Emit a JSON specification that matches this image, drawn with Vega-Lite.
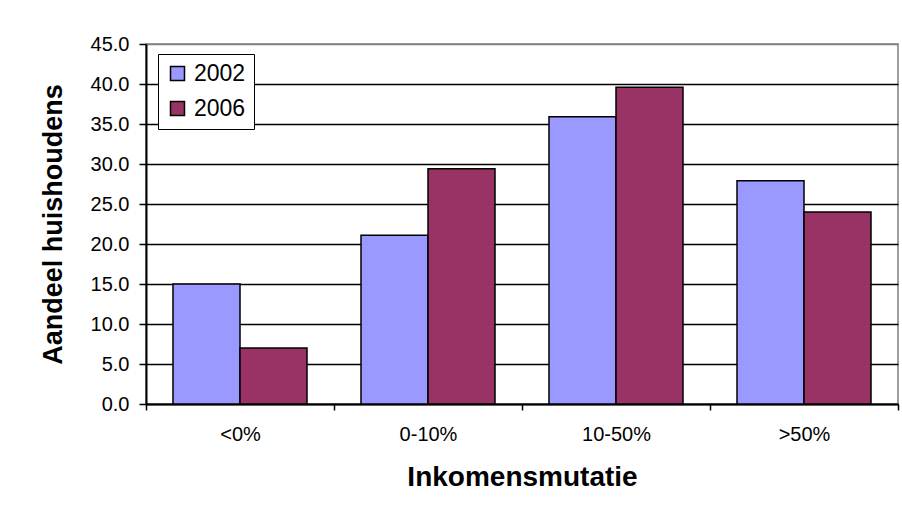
{
  "$schema": "https://vega.github.io/schema/vega-lite/v6.json",
  "width": 752,
  "height": 360,
  "autosize": "none",
  "padding": {"left": 146, "top": 44, "right": 4, "bottom": 114},
  "background": "white",
  "config": {
    "font": "Liberation Sans",
    "view": {"stroke": "#808080", "strokeWidth": 1.5}
  },
  "data": {
    "values": [
      {"cat": "<0%", "jaar": "2002", "waarde": 15.0},
      {"cat": "<0%", "jaar": "2006", "waarde": 7.0},
      {"cat": "0-10%", "jaar": "2002", "waarde": 21.1},
      {"cat": "0-10%", "jaar": "2006", "waarde": 29.4},
      {"cat": "10-50%", "jaar": "2002", "waarde": 35.9},
      {"cat": "10-50%", "jaar": "2006", "waarde": 39.6},
      {"cat": ">50%", "jaar": "2002", "waarde": 27.9},
      {"cat": ">50%", "jaar": "2006", "waarde": 24.0}
    ]
  },
  "mark": {"type": "bar", "stroke": "black", "strokeWidth": 1.5},
  "encoding": {
    "x": {
      "field": "cat",
      "type": "nominal",
      "sort": ["<0%", "0-10%", "10-50%", ">50%"],
      "scale": {"paddingInner": 0, "paddingOuter": 0},
      "axis": {
        "title": "Inkomensmutatie",
        "titleFontSize": 28,
        "titleFontWeight": "bold",
        "titleColor": "black",
        "titlePadding": 19,
        "labelAngle": 0,
        "labelFontSize": 20,
        "labelColor": "black",
        "labelPadding": 14,
        "tickBand": "extent",
        "tickSize": 6,
        "tickColor": "black",
        "tickWidth": 1.5,
        "domainColor": "black",
        "domainWidth": 2,
        "grid": false
      }
    },
    "xOffset": {
      "field": "jaar",
      "type": "nominal",
      "scale": {"paddingInner": 0, "paddingOuter": 0.403}
    },
    "y": {
      "field": "waarde",
      "type": "quantitative",
      "scale": {"domain": [0, 45], "nice": false},
      "axis": {
        "title": "Aandeel huishoudens",
        "titleFontSize": 27,
        "titleFontWeight": "bold",
        "titleColor": "black",
        "titlePadding": 23,
        "values": [0, 5, 10, 15, 20, 25, 30, 35, 40, 45],
        "format": ".1f",
        "labelFontSize": 20,
        "labelColor": "black",
        "labelPadding": 10,
        "tickSize": 7,
        "tickColor": "black",
        "tickWidth": 1.5,
        "domainColor": "black",
        "domainWidth": 2,
        "gridColor": {"expr": "datum.value >= 45 ? '#808080' : 'black'"},
        "gridWidth": 1.5,
        "gridOpacity": 1
      }
    },
    "fill": {
      "field": "jaar",
      "type": "nominal",
      "scale": {"domain": ["2002", "2006"], "range": ["#9999FF", "#993366"]},
      "legend": {
        "title": null,
        "orient": "none",
        "legendX": 12,
        "legendY": 10,
        "padding": 8,
        "strokeColor": "black",
        "fillColor": "white",
        "symbolType": "square",
        "symbolSize": 196,
        "symbolStrokeColor": "black",
        "symbolStrokeWidth": 1.5,
        "symbolOpacity": 1,
        "labelFontSize": 23,
        "labelColor": "black",
        "labelOffset": 5,
        "rowPadding": 11
      }
    }
  }
}
